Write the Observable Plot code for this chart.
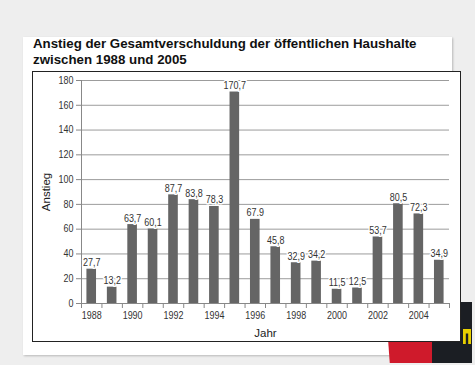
<!DOCTYPE html>
<html>
<head>
<meta charset="utf-8">
<script src="https://cdn.jsdelivr.net/npm/d3@7"></script>
<script src="https://cdn.jsdelivr.net/npm/@observablehq/plot@0.6"></script>
<style>
  html, body { margin: 0; padding: 0; }
  body { width: 475px; height: 365px; background: #eeeeee; position: relative; overflow: hidden; font-family: "Liberation Sans", Arial, sans-serif; }
  #card { position: absolute; left: 23px; top: 37px; width: 429px; height: 318px; background: #fff; box-shadow: 1px 1px 2px #b8b8b8; }
  #title { position: absolute; left: 33px; top: 36px; font: bold 13.3px "Liberation Sans", Arial, sans-serif; line-height: 15.7px; color: #111; white-space: nowrap; }
  #bookBlack { position: absolute; left: 423px; top: 302px; width: 49px; height: 61px; background: #1b1e23; }
  #bookYellow { position: absolute; left: 463px; top: 329px; width: 8px; height: 15px; background: #e8d000; clip-path: polygon(0 0, 100% 0, 100% 100%, 65% 100%, 65% 30%, 35% 30%, 35% 100%, 0 100%); }
  #bookRed { position: absolute; left: 388px; top: 336px; width: 44px; height: 27px; background: #cf1a2b; clip-path: polygon(0 10%, 100% 0, 100% 100%, 4% 100%); }
  #box { position: absolute; left: 32px; top: 71px; width: 429px; height: 271px; box-sizing: border-box; border: 1px solid #222; background: #fff; }
  #box svg { display: block; }
</style>
</head>
<body>
<div id="card"></div>
<div id="title">Anstieg der Gesamtverschuldung der öffentlichen Haushalte<br>zwischen 1988 und 2005</div>
<div id="bookBlack"></div>
<div id="bookYellow"></div>
<div id="bookRed"></div>
<div id="box"></div>
<script>
const years = [1988, 1989, 1990, 1991, 1992, 1993, 1994, 1995, 1996, 1997, 1998, 1999, 2000, 2001, 2002, 2003, 2004, 2005];
const values = [27.7, 13.2, 63.7, 60.1, 87.7, 83.8, 78.3, 170.7, 67.9, 45.8, 32.9, 34.2, 11.5, 12.5, 53.7, 80.5, 72.3, 34.9];
const valueLabels = ["27,7", "13,2", "63,7", "60,1", "87,7", "83,8", "78,3", "170,7", "67.9", "45,8", "32,9", "34,2", "11,5", "12,5", "53,7", "80,5", "72,3", "34,9"];
const yTicks = [0, 20, 40, 60, 80, 100, 120, 140, 160, 180];
const xTickLabels = [1988, 1990, 1992, 1994, 1996, 1998, 2000, 2002, 2004];
const yLabel = "Anstieg";
const xLabel = "Jahr";

const data = years.map((year, i) => ({year, value: values[i], label: valueLabels[i]}));
const boundaries = [...years.map(y => y - 0.5), years[years.length - 1] + 0.5];

const font = "'Liberation Sans', Arial, sans-serif";
const plot = Plot.plot({
  width: 427,
  height: 269,
  marginLeft: 48,
  marginRight: 11,
  marginTop: 8,
  marginBottom: 38,
  style: {fontFamily: font, fontSize: "10px", color: "#333", background: "#fff", overflow: "visible"},
  x: {type: "linear", domain: [1987.5, 2005.5]},
  y: {domain: [0, 180]},
  marks: [
    Plot.gridY(yTicks.filter(d => d > 0), {stroke: "#9c9c9c", strokeOpacity: 1}),
    Plot.axisY({ticks: yTicks, tickSize: 5, tickPadding: 3, stroke: "#888", fill: "#333", fontSize: 10.2, label: null}),
    Plot.ruleX([1987.5], {y1: 0, y2: 180, stroke: "#888"}),
    Plot.rectY(data, {x1: d => d.year - 0.235, x2: d => d.year + 0.235, y1: 0, y2: "value", fill: "#656565"}),
    Plot.ruleY([0], {stroke: "#888"}),
    Plot.axisX({ticks: boundaries, tickSize: 5, tickFormat: () => "", stroke: "#888", label: null}),
    Plot.axisX({ticks: xTickLabels, tickSize: 0, tickPadding: 8, tickFormat: d => String(d), fill: "#333", fontSize: 10.2, label: null}),
    Plot.text(data, {x: "year", y: "value", text: "label", dy: -3, lineAnchor: "bottom", fill: "#333",
      stroke: "white", strokeWidth: 3, fontSize: 10.2}),
    Plot.text([yLabel], {frameAnchor: "left", dx: -35, rotate: -90, textAnchor: "middle", lineAnchor: "middle", fontSize: 11.5, fill: "#222"}),
    Plot.text([xLabel], {frameAnchor: "bottom", dy: 29.5, textAnchor: "middle", lineAnchor: "middle", fontSize: 11.5, fill: "#222"})
  ]
});
document.getElementById("box").appendChild(plot);
// slightly condense the small numeric labels to mimic the narrow typeface of the reference
plot.querySelectorAll("text").forEach(el => {
  const t = el.textContent;
  if (t === yLabel || t === xLabel || !t) return;
  const len = el.getComputedTextLength();
  if (len > 0) {
    el.setAttribute("textLength", (len * 0.88).toFixed(2));
    el.setAttribute("lengthAdjust", "spacingAndGlyphs");
  }
});
</script>
</body>
</html>
